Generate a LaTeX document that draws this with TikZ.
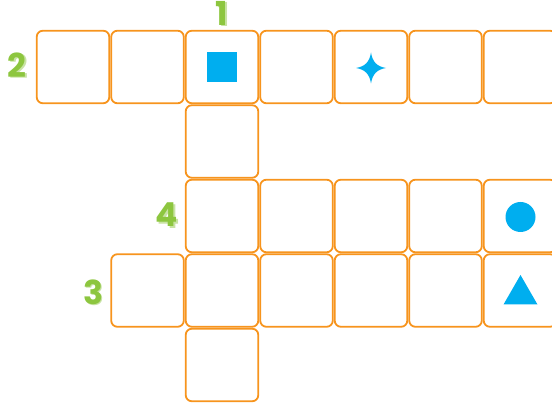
\documentclass[tikz,border=0pt]{standalone}
\usepackage{fontspec}
\setmainfont{Poppins}
\usetikzlibrary{shapes.geometric}
\definecolor{cellor}{HTML}{F7941D}
\definecolor{skyb}{HTML}{00AEEF}
\definecolor{numg}{HTML}{8DC63F}
\definecolor{numl}{HTML}{C9E3A5}
\tikzset{
  cell/.style={draw=cellor, line width=1.8pt, rounded corners=6pt, minimum width=72.5pt, minimum height=72.5pt, inner sep=0pt, fill=white},
  numshadow/.style={text=numl, font=\fontsize{33}{33}\selectfont\bfseries, inner sep=0pt},
  num/.style={text=numg, font=\fontsize{33}{33}\selectfont\bfseries, inner sep=0pt},
}
\begin{document}
\begin{tikzpicture}[x=1pt,y=-1pt]
\useasboundingbox (0,0) rectangle (552,411);
% row 1
\foreach \c in {0,...,6} {
  \node[cell] (r1c\c) at ({73+74.5*\c},67) {};
}
\node[cell] (r2c2) at (222,141.5) {};
\foreach \c in {2,...,6} {
  \node[cell] (r3c\c) at ({73+74.5*\c},216) {};
}
\foreach \c in {1,...,6} {
  \node[cell] (r4c\c) at ({73+74.5*\c},290.5) {};
}
\node[cell] (r5c2) at (222,365) {};
% shapes
\node[fill=skyb, minimum size=30pt, inner sep=0pt] (sq) at (r1c2.center) {};
\fill[skyb] (371,52.5) .. controls (372.5,62) and (377,66.5) .. (386,68)
  .. controls (377,69.5) and (372.5,74) .. (371,83.5)
  .. controls (369.5,74) and (365,69.5) .. (356,68)
  .. controls (365,66.5) and (369.5,62) .. (371,52.5) -- cycle;
\node[circle, fill=skyb, minimum size=30pt, inner sep=0pt] (circ) at (520.5,217) {};
\fill[skyb] (503.5,304.5) -- (520.5,275) -- (537.5,304.5) -- cycle;
% numbers
\node[numshadow] (n1s) at (223.5,14.5) {1};
\node[num] (n1) at (222,13) {1};
\node[numshadow] (n2s) at (18.5,66.5) {2};
\node[num] (n2) at (17,65) {2};
\node[numshadow] (n4s) at (168.5,216.5) {4};
\node[num] (n4) at (167,215) {4};
\node[numshadow] (n3s) at (94.5,293.5) {3};
\node[num] (n3) at (93,292) {3};
\end{tikzpicture}
\end{document}
